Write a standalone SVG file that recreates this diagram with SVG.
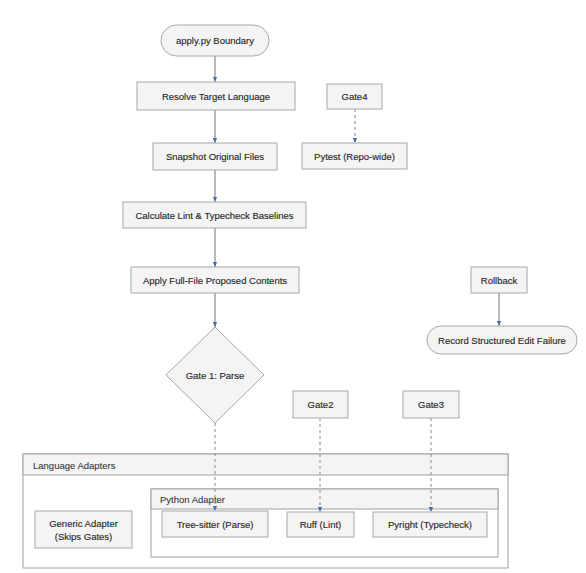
<svg xmlns="http://www.w3.org/2000/svg" width="586" height="573" viewBox="0 0 586 573">
<defs>
<style>
.n{fill:#f4f4f4;stroke:#a8a8a8;stroke-width:1}
.c{fill:#ffffff;stroke:#a0a0a0;stroke-width:1}
.h{fill:#f4f4f4;stroke:#a0a0a0;stroke-width:1}
.t{font-family:"Liberation Sans",Arial,sans-serif;font-size:9.5px;fill:#2a2a2a;stroke:#2a2a2a;stroke-width:0.15;text-anchor:middle;dominant-baseline:central}
.tl{font-family:"Liberation Sans",Arial,sans-serif;font-size:9.5px;fill:#3a3a3a;stroke:#3a3a3a;stroke-width:0.1;dominant-baseline:central}
.e{fill:none;stroke:#8a8a8a;stroke-width:1.2}
.d{fill:none;stroke:#8a8a8a;stroke-width:1;stroke-dasharray:3,3}
</style>
<marker id="a" viewBox="0 0 6 6" refX="6" refY="3" markerWidth="5" markerHeight="5" orient="auto" markerUnits="userSpaceOnUse">
<path d="M0,0.5 L6,3 L0,5.5 z" fill="#3d6fb5"/>
</marker>
</defs>
<rect width="586" height="573" fill="#ffffff"/>
<g id="cluster-language-adapters">
<rect class="c" x="23" y="454" width="485" height="114"/>
<rect class="h" x="23" y="454" width="485" height="21"/>
<text class="tl" x="33" y="465">Language Adapters</text>
</g>
<g id="cluster-python-adapter">
<rect class="c" x="151" y="489" width="347" height="68"/>
<rect class="h" x="151" y="489" width="347" height="20"/>
<text class="tl" x="160" y="499">Python Adapter</text>
</g>
<g id="connectors">
<path class="e" d="M215,56 V82" marker-end="url(#a)"/>
<path class="e" d="M215,110 V143" marker-end="url(#a)"/>
<path class="e" d="M215,170 V202" marker-end="url(#a)"/>
<path class="e" d="M215,228 V267" marker-end="url(#a)"/>
<path class="e" d="M215,293 V327" marker-end="url(#a)"/>
<path class="e" d="M499,293 V326" marker-end="url(#a)"/>
<path class="d" d="M355,109 V143" marker-end="url(#a)"/>
<path class="d" d="M215,423 V511" marker-end="url(#a)"/>
<path class="d" d="M320,418 V512" marker-end="url(#a)"/>
<path class="d" d="M431,418 V512" marker-end="url(#a)"/>
</g>
<g id="apply-boundary">
<rect class="n" x="161" y="25" width="108" height="31" rx="15.5"/>
<text class="t" x="215" y="40.5">apply.py Boundary</text>
</g>
<g id="resolve-target-language">
<rect class="n" x="137" y="82" width="158" height="28"/>
<text class="t" x="216" y="96">Resolve Target Language</text>
</g>
<g id="snapshot-original-files">
<rect class="n" x="153" y="143" width="124" height="27"/>
<text class="t" x="215" y="156.5">Snapshot Original Files</text>
</g>
<g id="calculate-baselines">
<rect class="n" x="123" y="202" width="183" height="26"/>
<text class="t" x="214.5" y="215">Calculate Lint &amp; Typecheck Baselines</text>
</g>
<g id="apply-contents">
<rect class="n" x="131" y="267" width="168" height="26"/>
<text class="t" x="215" y="280">Apply Full-File Proposed Contents</text>
</g>
<g id="gate1">
<polygon class="n" points="215,327 264,375 215,423 166,375"/>
<text class="t" x="215" y="375">Gate 1: Parse</text>
</g>
<g id="gate4">
<rect class="n" x="327" y="84" width="55" height="25"/>
<text class="t" x="354.5" y="96.5">Gate4</text>
</g>
<g id="pytest">
<rect class="n" x="302" y="143" width="105" height="26"/>
<text class="t" x="354.5" y="156">Pytest (Repo-wide)</text>
</g>
<g id="rollback">
<rect class="n" x="471" y="267" width="56" height="26"/>
<text class="t" x="499" y="280">Rollback</text>
</g>
<g id="record-failure">
<rect class="n" x="427" y="326" width="150" height="28" rx="14"/>
<text class="t" x="502" y="340">Record Structured Edit Failure</text>
</g>
<g id="gate2">
<rect class="n" x="293" y="391" width="55" height="27"/>
<text class="t" x="320.5" y="404.5">Gate2</text>
</g>
<g id="gate3">
<rect class="n" x="403" y="391" width="56" height="27"/>
<text class="t" x="431" y="404.5">Gate3</text>
</g>
<g id="generic-adapter">
<rect class="n" x="35" y="511" width="97" height="37"/>
<text class="t" x="83.5" y="523">Generic Adapter</text>
<text class="t" x="83.5" y="536">(Skips Gates)</text>
</g>
<g id="tree-sitter">
<rect class="n" x="162" y="511" width="106" height="26"/>
<text class="t" x="215" y="524">Tree-sitter (Parse)</text>
</g>
<g id="ruff">
<rect class="n" x="287" y="512" width="67" height="25"/>
<text class="t" x="320.5" y="524.5">Ruff (Lint)</text>
</g>
<g id="pyright">
<rect class="n" x="373" y="512" width="114" height="25"/>
<text class="t" x="430" y="524.5">Pyright (Typecheck)</text>
</g>
</svg>
